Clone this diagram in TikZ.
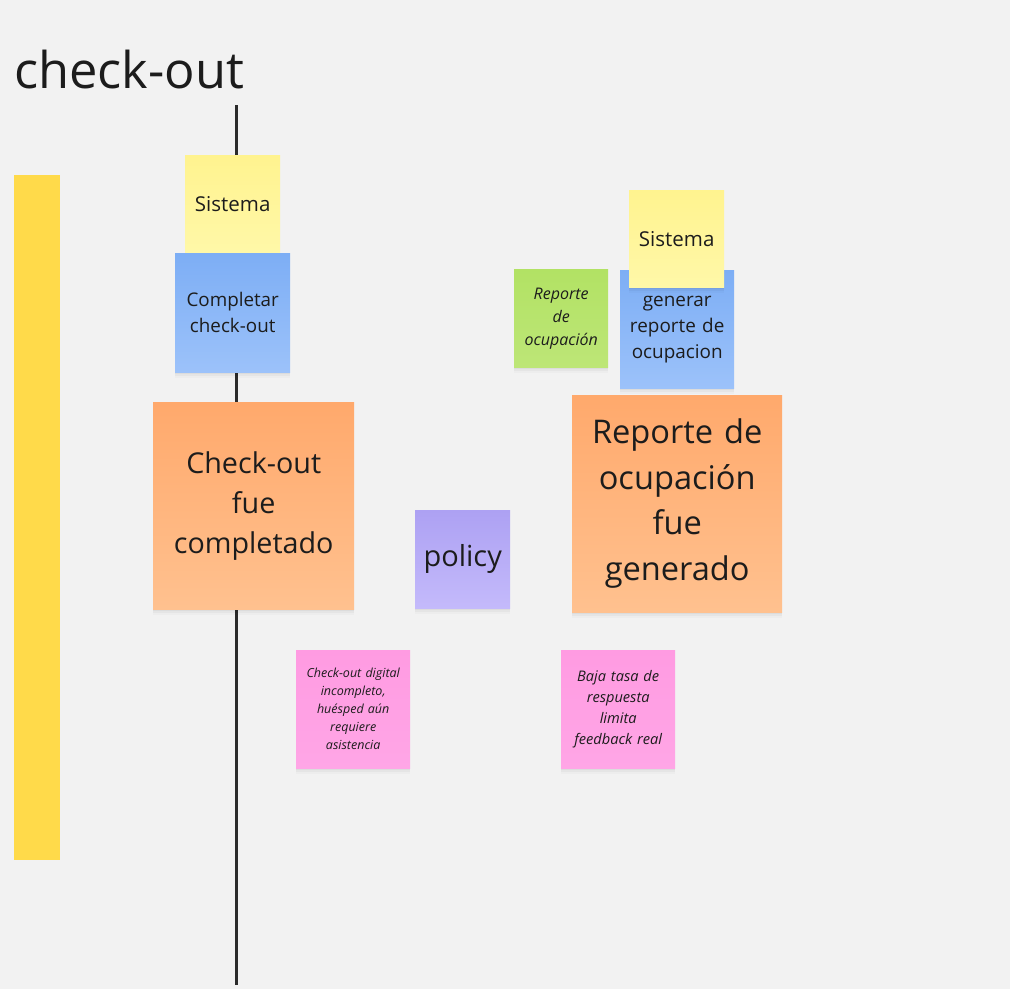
\documentclass[tikz,border=0pt]{standalone}
\usepackage{fontspec}
\setmainfont{Open Sans}
\usetikzlibrary{shadows}
\definecolor{bg}{HTML}{F2F2F2}
\definecolor{ink}{HTML}{1C1C1C}
\definecolor{barY}{HTML}{FFDA4A}
\definecolor{lineC}{HTML}{2B2B2B}
\definecolor{yelT}{HTML}{FFF38F}
\definecolor{yelB}{HTML}{FFF8A8}
\definecolor{bluT}{HTML}{7DAEF5}
\definecolor{bluB}{HTML}{9CC2FA}
\definecolor{orT}{HTML}{FFA96C}
\definecolor{orB}{HTML}{FFC18F}
\definecolor{puT}{HTML}{ADA1F3}
\definecolor{puB}{HTML}{C4BAFB}
\definecolor{piT}{HTML}{FF9BE2}
\definecolor{piB}{HTML}{FFA6E6}
\definecolor{grT}{HTML}{B2E264}
\definecolor{grB}{HTML}{BDE677}
\tikzset{
  sticky/.style={anchor=north west, inner sep=2pt, align=center, text=ink,
    drop shadow={shadow xshift=0pt, shadow yshift=-2pt, fill=black, opacity=0.035},
    drop shadow={shadow xshift=0pt, shadow yshift=-4pt, fill=black, opacity=0.03},
    drop shadow={shadow xshift=0pt, shadow yshift=-6pt, fill=black, opacity=0.02}},
  yel/.style={sticky, top color=yelT, bottom color=yelB},
  blu/.style={sticky, top color=bluT, bottom color=bluB},
  ora/.style={sticky, top color=orT, bottom color=orB},
  pur/.style={sticky, top color=puT, bottom color=puB},
  pin/.style={sticky, top color=piT, bottom color=piB},
  gre/.style={sticky, top color=grT, bottom color=grB},
}
\begin{document}
\begin{tikzpicture}[x=1pt,y=-1pt]
\fill[bg] (0,0) rectangle (1010,989);
\useasboundingbox (0,0) rectangle (1010,989);
\node[anchor=base west, inner sep=0pt, text=ink, font=\fontsize{50.6}{56}\selectfont] (title) at (14,88) {check-out};
\fill[barY] (14,175) rectangle (60,860);
\coordinate (ltop) at (236.5,105);
\coordinate (lbot) at (236.5,985);
\draw[lineC, line width=3pt] (ltop) -- (lbot);
% left column
\node[yel, minimum width=95pt, minimum height=98pt, text width=91pt, font=\fontsize{20.5}{26}\selectfont] (sis1) at (185,155) {Sistema};
\node[blu, minimum width=115pt, minimum height=119pt, text width=111pt, font=\fontsize{18.8}{26}\selectfont] (comp) at (175,253) {Completar\\check-out};
\node[ora, minimum width=201pt, minimum height=207pt, text width=195pt, font=\fontsize{28.7}{40}\selectfont] (ev1) at (153,402) {Check-out\\fue\\completado};
\node[pur, minimum width=95pt, minimum height=98pt, text width=91pt, font=\fontsize{29}{36}\selectfont] (pol) at (415,510) {policy};
\node[pin, minimum width=114pt, minimum height=118pt, text width=110pt, font=\fontsize{12.5}{18}\selectfont\itshape] (hot1) at (296,650) {Check-out digital\\incompleto,\\huésped aún\\requiere\\asistencia};
\node[pin, minimum width=114pt, minimum height=118pt, text width=110pt, font=\fontsize{14.6}{20.7}\selectfont\itshape] (hot2) at (561,650) {Baja tasa de\\respuesta\\limita\\feedback real};
% right column
\node[gre, minimum width=94pt, minimum height=98pt, text width=90pt, font=\fontsize{16}{23}\selectfont\itshape] (read) at (514,269) {Reporte\\de\\ocupación};
\node[blu, minimum width=114pt, minimum height=118pt, text width=110pt, font=\fontsize{18.9}{26}\selectfont] (gen) at (620,270) {generar\\reporte de\\ocupacion};
\node[yel, minimum width=95pt, minimum height=97pt, text width=91pt, font=\fontsize{20.5}{26}\selectfont] (sis2) at (629,190) {Sistema};
\node[ora, minimum width=210pt, minimum height=217pt, text width=204pt, font=\fontsize{32.6}{45.5}\selectfont] (ev2) at (572,395) {Reporte de\\ocupación\\fue\\generado};
\end{tikzpicture}
\end{document}
